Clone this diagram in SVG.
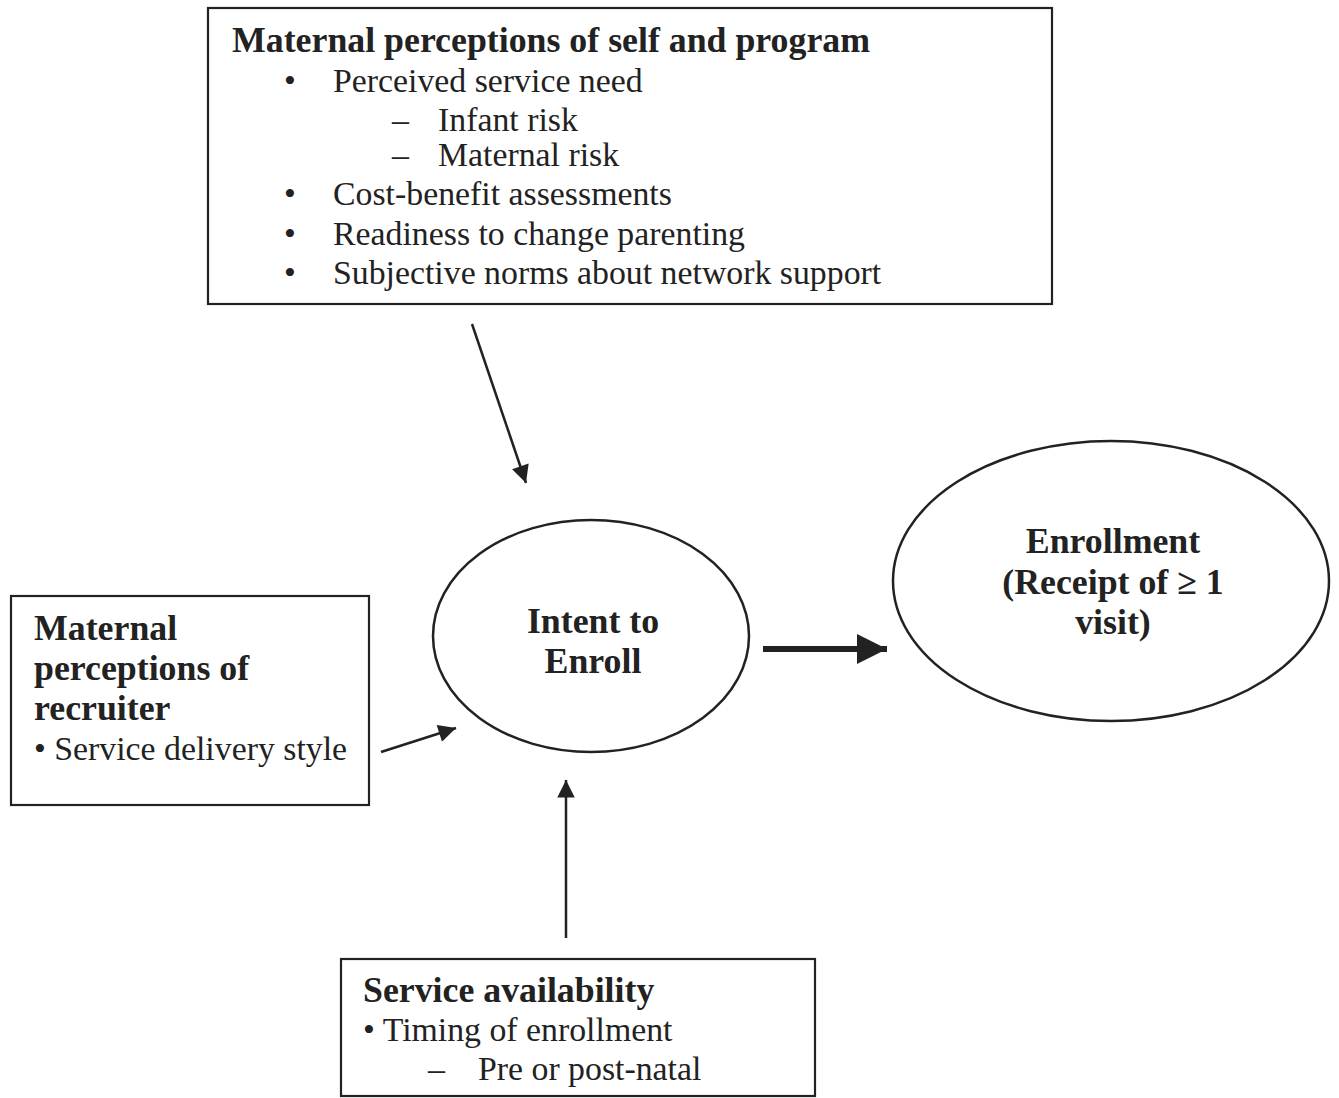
<svg xmlns="http://www.w3.org/2000/svg" width="1339" height="1098" viewBox="0 0 1339 1098">
<defs>
<style>
.box{fill:#fff;stroke:#222;stroke-width:2.2}
.ell{fill:#fff;stroke:#222;stroke-width:2.5}
text{font-family:"Liberation Serif","Times New Roman",serif;fill:#222;font-size:33.8px}
.b{font-weight:bold;font-size:35.8px}
.c{text-anchor:middle}
.ln{stroke:#222;stroke-width:2.5;fill:none}
</style>
<marker id="ah" viewBox="0 0 10 10" refX="10" refY="5" markerWidth="8.5" markerHeight="7" markerUnits="strokeWidth" orient="auto">
<path d="M0,0 L10,5 L0,10 Z" fill="#222"/>
</marker>
<marker id="ahb" viewBox="0 0 10 10" refX="10" refY="5" markerWidth="5.6" markerHeight="5" markerUnits="strokeWidth" orient="auto">
<path d="M0,0 L10,5 L0,10 Z" fill="#222"/>
</marker>
</defs>
<rect width="1339" height="1098" fill="#fff"/>
<g id="self-program">
<rect class="box" x="208" y="8" width="844" height="296"/>
<text class="b" x="232" y="52">Maternal perceptions of self and program</text>
<text x="284" y="92">•</text><text x="333" y="92">Perceived service need</text>
<text x="392" y="131">–</text><text x="438" y="131">Infant risk</text>
<text x="392" y="166">–</text><text x="438" y="166">Maternal risk</text>
<text x="284" y="205">•</text><text x="333" y="205">Cost-benefit assessments</text>
<text x="284" y="245">•</text><text x="333" y="245">Readiness to change parenting</text>
<text x="284" y="284">•</text><text x="333" y="284">Subjective norms about network support</text>
</g>
<g id="intent">
<ellipse class="ell" cx="591" cy="636" rx="158" ry="116"/>
<text class="b c" x="593" y="633">Intent to</text>
<text class="b c" x="593" y="673">Enroll</text>
</g>
<g id="enrollment">
<ellipse class="ell" cx="1111" cy="581" rx="218" ry="140"/>
<text class="b c" x="1113" y="553">Enrollment</text>
<text class="b c" x="1113" y="594">(Receipt of ≥ 1</text>
<text class="b c" x="1113" y="634">visit)</text>
</g>
<g id="recruiter">
<rect class="box" x="11" y="596" width="358" height="209"/>
<text class="b" x="34" y="640">Maternal</text>
<text class="b" x="34" y="680">perceptions of</text>
<text class="b" x="34" y="720">recruiter</text>
<text x="34" y="760">• Service delivery style</text>
</g>
<g id="availability">
<rect class="box" x="341" y="959" width="474" height="137"/>
<text class="b" x="363" y="1002">Service availability</text>
<text x="363" y="1041">• Timing of enrollment</text>
<text x="428" y="1080">–</text><text x="478" y="1080">Pre or post-natal</text>
</g>
<g id="connectors">
<line class="ln" x1="472" y1="324" x2="526" y2="483" marker-end="url(#ah)"/>
<line class="ln" x1="381" y1="752" x2="456" y2="728" marker-end="url(#ah)"/>
<line class="ln" x1="566" y1="938" x2="566" y2="780" marker-end="url(#ah)"/>
<line class="ln" style="stroke-width:6" x1="763" y1="649" x2="887" y2="649" marker-end="url(#ahb)"/>
</g>
</svg>
